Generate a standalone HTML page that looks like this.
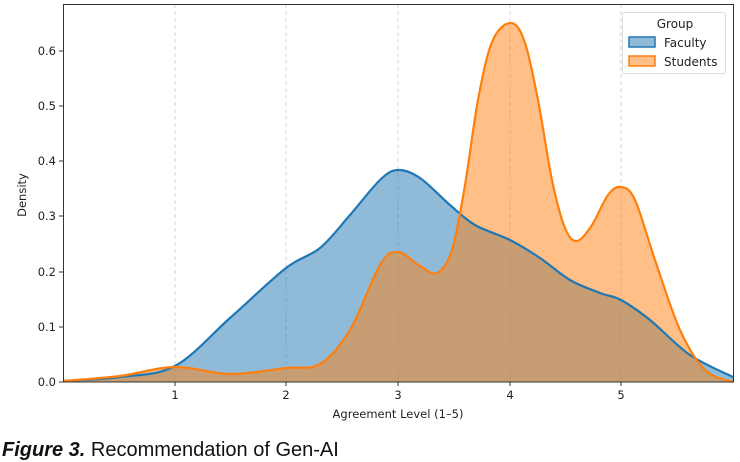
<!DOCTYPE html>
<html><head><meta charset="utf-8"><style>
body{margin:0;background:#fff;width:740px;height:462px;overflow:hidden}
svg{display:block;font-family:"DejaVu Sans","Liberation Sans",sans-serif}
</style></head><body>
<svg id="s" width="740" height="462" viewBox="0 0 740 462">
<g stroke="#ccc" stroke-dasharray="4,3" stroke-width="0.8">
<line x1="175" y1="4" x2="175" y2="382"/><line x1="286" y1="4" x2="286" y2="382"/>
<line x1="398" y1="4" x2="398" y2="382"/><line x1="510" y1="4" x2="510" y2="382"/>
<line x1="621" y1="4" x2="621" y2="382"/>
</g>
<path id="fb" fill="#1f77b4" fill-opacity="0.5" stroke="none"/>
<path id="fo" fill="#ff7f0e" fill-opacity="0.5" stroke="none"/>
<path id="lb" fill="none" stroke="#1f77b4" stroke-width="2.2"/>
<path id="lo" fill="none" stroke="#ff7f0e" stroke-width="2.2"/>
<rect x="63.5" y="4.5" width="670" height="377.5" fill="none" stroke="#333" stroke-width="1"/>
<g font-size="11.5" fill="#222" text-anchor="middle">
<text x="175" y="399">1</text><text x="286" y="399">2</text><text x="398" y="399">3</text><text x="510" y="399">4</text><text x="621" y="399">5</text>
<text x="398" y="418">Agreement Level (1–5)</text>
</g>
<g font-size="11.5" fill="#222" text-anchor="end">
<text x="56" y="386">0.0</text><text x="56" y="331">0.1</text><text x="56" y="276">0.2</text><text x="56" y="220">0.3</text><text x="56" y="165">0.4</text><text x="56" y="110">0.5</text><text x="56" y="55">0.6</text>
</g>
<g stroke="#333"><line x1="59" y1="382" x2="63" y2="382"/><line x1="59" y1="327" x2="63" y2="327"/><line x1="59" y1="272" x2="63" y2="272"/><line x1="59" y1="216" x2="63" y2="216"/><line x1="59" y1="161" x2="63" y2="161"/><line x1="59" y1="106" x2="63" y2="106"/><line x1="59" y1="51" x2="63" y2="51"/>
<line x1="175" y1="382" x2="175" y2="386"/><line x1="286" y1="382" x2="286" y2="386"/><line x1="398" y1="382" x2="398" y2="386"/><line x1="510" y1="382" x2="510" y2="386"/><line x1="621" y1="382" x2="621" y2="386"/></g>
<text x="26" y="195" font-size="11.5" fill="#222" text-anchor="middle" transform="rotate(-90 26 195)">Density</text>
<rect x="622.5" y="12.5" width="103" height="61" rx="2" fill="#fff" fill-opacity="0.85" stroke="#ddd"/>
<text x="675" y="28" font-size="12" fill="#222" text-anchor="middle">Group</text>
<rect x="629" y="37" width="26" height="10" fill="#8fbbd9" stroke="#1f77b4" stroke-width="1.5"/>
<rect x="629" y="56" width="26" height="10" fill="#ffbf86" stroke="#ff7f0e" stroke-width="1.5"/>
<text x="664" y="47" font-size="12" fill="#222">Faculty</text>
<text x="664" y="66" font-size="12" fill="#222">Students</text>
<text x="2" y="456" font-family="Liberation Sans,sans-serif" font-size="20" fill="#111"><tspan font-weight="bold" font-style="italic">Figure 3.</tspan> Recommendation of Gen-AI</text>
</svg>
<script>
function cr(p){let d="M"+p[0][0]+","+p[0][1];for(let i=0;i<p.length-1;i++){const a=p[i-1]||p[i],b=p[i],c=p[i+1],e=p[i+2]||c;
d+=" C"+(b[0]+(c[0]-a[0])/6)+","+(b[1]+(c[1]-a[1])/6)+" "+(c[0]-(e[0]-b[0])/6)+","+(c[1]-(e[1]-b[1])/6)+" "+c[0]+","+c[1];}return d;}
const B=[[64,381],[120,377],[175,366],[230,318],[286,268],[320,248],[350,215],[380,180],[398,170],[420,178],[450,205],[475,225],[510,240],[540,258],[570,280],[600,293],[621,300],[650,320],[690,355],[733,377]];
const O=[[64,381],[120,376],[175,367],[230,374],[286,368],[320,364],[350,330],[380,265],[398,252],[420,266],[437,273],[452,250],[465,185],[478,100],[492,42],[510,23],[524,40],[538,100],[552,180],[565,228],[577,241],[592,225],[608,195],[621,187],[635,200],[655,260],[680,330],[705,370],[733,382]];
const b=cr(B),o=cr(O);
document.getElementById("lb").setAttribute("d",b);document.getElementById("lo").setAttribute("d",o);
document.getElementById("fb").setAttribute("d",b+" L733,382 L64,382 Z");document.getElementById("fo").setAttribute("d",o+" L64,382 Z");
</script>
</body></html>
